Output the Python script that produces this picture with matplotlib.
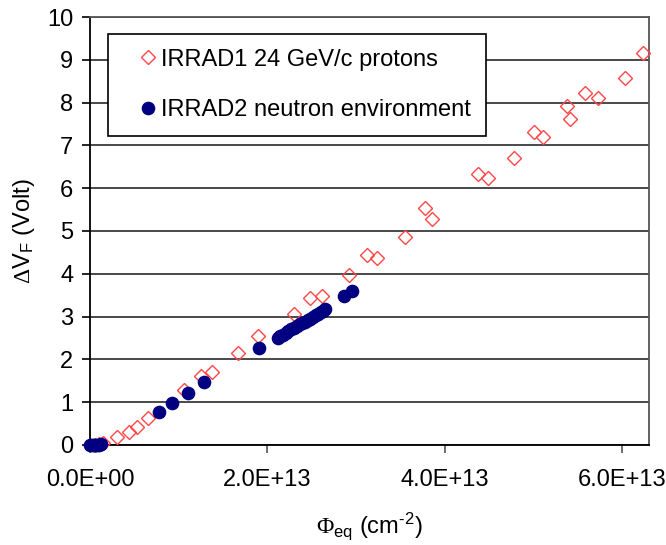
import numpy as np
import matplotlib.pyplot as plt

plt.rcParams['font.family'] = ['Liberation Sans', 'DejaVu Sans']
plt.rcParams['mathtext.fontset'] = 'custom'
plt.rcParams['mathtext.rm'] = 'Liberation Sans'
plt.rcParams['mathtext.it'] = 'Liberation Sans'
plt.rcParams['mathtext.sf'] = 'Liberation Serif'

# IRRAD1, 24 GeV/c protons: fluence (cm^-2) and forward voltage shift (V)
irrad1_phi = [0.06e13, 0.10e13, 0.15e13, 0.30e13, 0.44e13, 0.53e13, 0.65e13,
              1.06e13, 1.25e13, 1.38e13, 1.67e13, 1.89e13, 2.30e13, 2.48e13,
              2.62e13, 2.92e13, 3.12e13, 3.24e13, 3.55e13, 3.77e13, 3.86e13,
              4.37e13, 4.49e13, 4.78e13, 5.00e13, 5.10e13, 5.38e13, 5.41e13,
              5.58e13, 5.73e13, 6.03e13, 6.23e13]
irrad1_dvf = [0.00, 0.02, 0.05, 0.19, 0.31, 0.42, 0.63,
              1.28, 1.62, 1.71, 2.16, 2.54, 3.06, 3.43,
              3.49, 3.98, 4.45, 4.38, 4.86, 5.54, 5.29,
              6.33, 6.24, 6.71, 7.31, 7.20, 7.92, 7.61,
              8.22, 8.11, 8.57, 9.17]

# IRRAD2, neutron environment
irrad2_phi = [0.00e13, 0.02e13, 0.04e13, 0.06e13, 0.08e13, 0.10e13, 0.12e13,
              0.78e13, 0.92e13, 1.10e13, 1.29e13, 1.90e13,
              2.12e13, 2.14e13, 2.17e13, 2.21e13, 2.23e13, 2.27e13, 2.30e13,
              2.33e13, 2.37e13, 2.39e13, 2.42e13, 2.46e13, 2.48e13, 2.51e13,
              2.55e13, 2.57e13, 2.60e13, 2.63e13, 2.65e13,
              2.86e13, 2.95e13]
irrad2_dvf = [0.00, 0.00, 0.01, 0.00, 0.01, 0.00, 0.02,
              0.78, 0.97, 1.22, 1.47, 2.26,
              2.51, 2.55, 2.58, 2.62, 2.67, 2.70, 2.74,
              2.77, 2.82, 2.85, 2.88, 2.93, 2.95, 2.99,
              3.04, 3.07, 3.10, 3.14, 3.18,
              3.47, 3.60]

x_ticks = [0.0, 2.0e13, 4.0e13, 6.0e13]
x_tick_labels = ['0.0E+00', '2.0E+13', '4.0E+13', '6.0E+13']
y_ticks = list(range(0, 11))

fig = plt.figure(figsize=(6.66, 5.45), dpi=100)
ax = fig.add_axes([0.1351, 0.1835, 0.8394, 0.7853])

ax.plot(irrad1_phi, irrad1_dvf, linestyle='none', marker='D', markersize=7.2,
        markerfacecolor='none', markeredgecolor='#ff4646', markeredgewidth=1.0,
        label='IRRAD1 24 GeV/c protons', zorder=3, clip_on=False)
ax.plot(irrad2_phi, irrad2_dvf, linestyle='none', marker='o', markersize=8.8,
        markerfacecolor='#000080', markeredgecolor='#000080',
        label='IRRAD2 neutron environment', zorder=4, clip_on=False)

ax.set_xlim(0, 6.3e13)
ax.set_ylim(0, 10)
ax.set_xticks(x_ticks)
ax.set_xticklabels(x_tick_labels)
ax.set_yticks(y_ticks)

ax.yaxis.grid(True, color='#3a3a3a', linewidth=1.3)
ax.set_axisbelow(True)

for side in ['top', 'right']:
    ax.spines[side].set_color('#555555')
    ax.spines[side].set_linewidth(1.3)
for side in ['left', 'bottom']:
    ax.spines[side].set_color('black')
    ax.spines[side].set_linewidth(1.3)

ax.tick_params(axis='both', labelsize=17, direction='out', length=6, width=1.2,
               color='black')
ax.tick_params(axis='x', pad=11, color='#555555')
ax.tick_params(axis='y', pad=6)

ax.set_ylabel(r'$\mathsf{\Delta}$V$_{\rm F}$ (Volt)', fontsize=17, labelpad=7)
ax.set_xlabel('$\\mathsf{\\Phi}_{\\rm eq}$ (cm$^{\u20102}$)', fontsize=17,
              labelpad=14)

leg = ax.legend(loc='upper left', bbox_to_anchor=(0.032, 0.960), fontsize=17,
                frameon=True, fancybox=False, framealpha=1, edgecolor='black',
                borderpad=0.62, labelspacing=1.2, handlelength=2.2,
                handletextpad=-0.55, borderaxespad=0)
leg.get_frame().set_linewidth(1.2)

fig.savefig('out.png', dpi=100)
